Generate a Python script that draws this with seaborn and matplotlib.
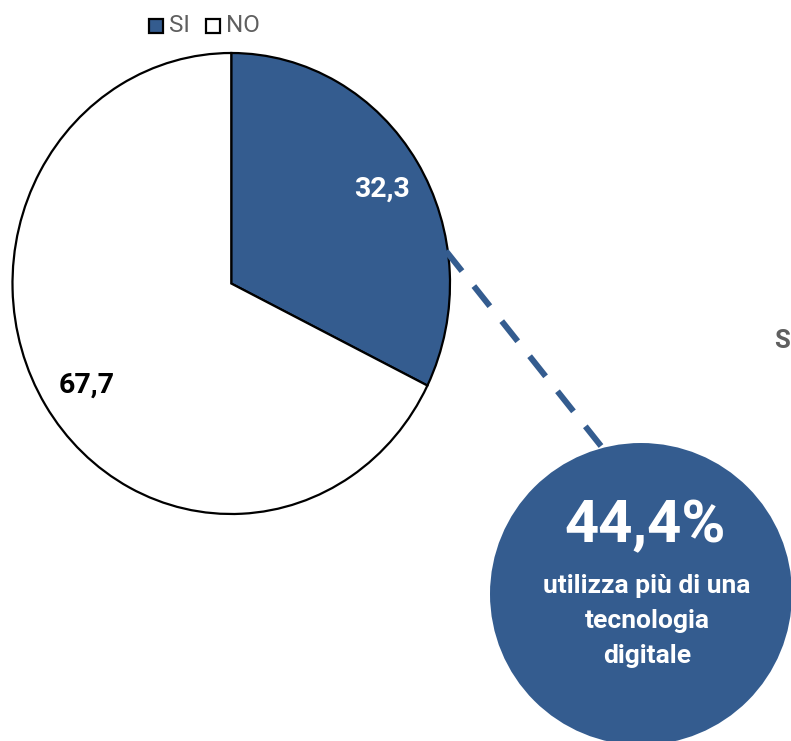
import matplotlib
matplotlib.use("Agg")
import matplotlib.pyplot as plt
from matplotlib.patches import Circle, Rectangle
import seaborn as sns

# Data
categories = ["SI", "NO"]
shares = [32.3, 67.7]
multi_tech_share = 44.4
multi_tech_text = "utilizza più di una\ntecnologia\ndigitale"

BLUE = "#345C8F"
GREY = "#5F5F5F"
colors = [BLUE, "white"]

sns.set_theme(style="white")
plt.rcParams["font.family"] = ["Roboto", "Liberation Sans", "DejaVu Sans"]

W, H = 791, 741
fig = plt.figure(figsize=(W / 100, H / 100), dpi=100)

# Pie axes (slightly stretched vertically)
px_l, px_r, px_t, px_b = 12.5, 450, 53, 514
ax = fig.add_axes([px_l / W, 1 - px_b / H, (px_r - px_l) / W, (px_b - px_t) / H])
wedges, _ = ax.pie(
    shares, colors=colors, startangle=90, counterclock=False,
    wedgeprops=dict(edgecolor="black", linewidth=1.6),
)
for w in wedges:
    w.set_clip_on(False)
ax.set_aspect("auto")
ax.set_xlim(-1, 1)
ax.set_ylim(-1, 1)
ax.axis("off")

fmt = lambda v: f"{v:.1f}".replace(".", ",")
ax.text(0.69, 0.41, fmt(shares[0]), color="white", fontsize=20.5, fontweight="bold",
        ha="center", va="center")
ax.text(-0.66, -0.44, fmt(shares[1]), color="black", fontsize=20.5, fontweight="bold",
        ha="center", va="center")

# Overlay in pixel coordinates for legend, callout and bubble
ov = fig.add_axes([0, 0, 1, 1], zorder=5)
ov.set_xlim(0, W)
ov.set_ylim(H, 0)
ov.axis("off")
ov.patch.set_alpha(0)

# Legend
for (x0, lab), fc in zip([(149, categories[0]), (206, categories[1])], colors):
    ov.add_patch(Rectangle((x0, 19), 14, 14, facecolor=fc, edgecolor="black", linewidth=1.6))
    ov.text(x0 + 20, 26, lab, fontsize=17.5, color=GREY, ha="left", va="center")

# Dashed callout line
ov.plot([446, 601], [251, 446], color=BLUE, linewidth=4.3, dashes=(4.3, 3.2),
        solid_capstyle="butt", dash_capstyle="butt")

# Bubble
ov.add_patch(Circle((641, 594), 151, facecolor=BLUE, edgecolor="none", zorder=3))
ov.text(645, 526, f"{fmt(multi_tech_share)}%", color="white", fontsize=43,
        fontweight="bold", ha="center", va="center", zorder=4)
ov.text(647, 621, multi_tech_text, color="white", fontsize=19, fontweight="bold",
        ha="center", va="center", linespacing=1.6, zorder=4)

# Label beginning at the right edge
ov.text(790, 341, "S", color=GREY, fontsize=18.5, fontweight="bold",
        ha="right", va="center")

fig.savefig("out.png", dpi=100)
